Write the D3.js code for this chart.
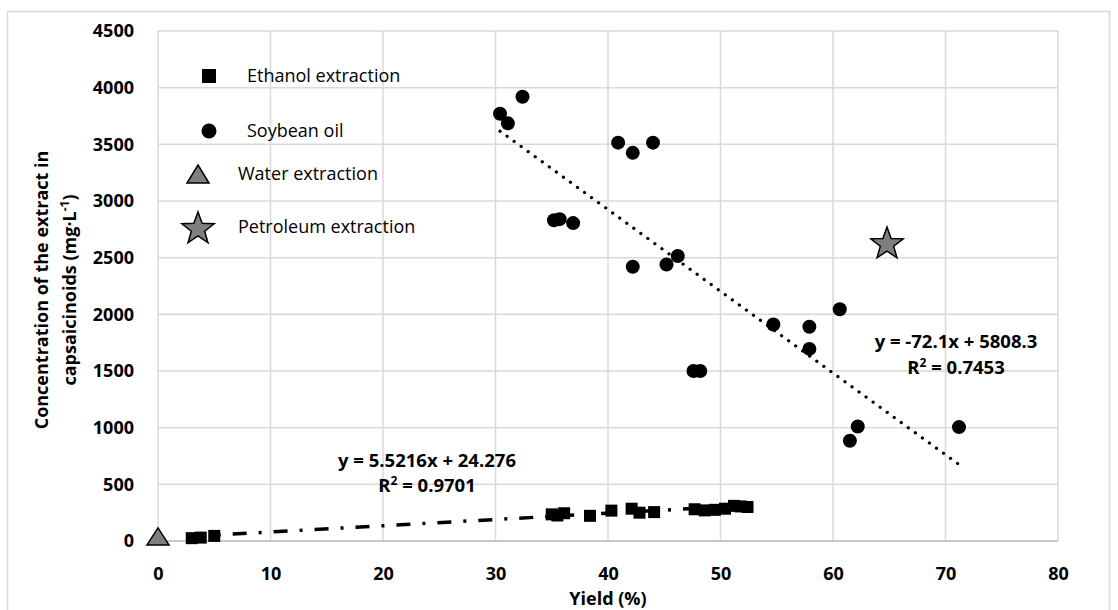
<!DOCTYPE html>
<html><head><meta charset="utf-8">
<script src="https://cdn.jsdelivr.net/npm/d3@7"></script>
<style>
body{margin:0;background:#fff;}
svg{display:block;font-family:"Open Sans",sans-serif;}
</style></head>
<body><svg id="chart" width="1118" height="610"></svg>
<script>
// ---- data ----
const ethanolYield = [3.0, 3.8, 5.0, 35.0, 35.5, 36.1, 38.4, 40.3, 42.1, 42.8, 44.1, 47.7, 48.6, 49.5, 50.4, 51.2, 51.8, 52.4];
const ethanolConc  = [25, 30, 45, 235, 225, 245, 222, 268, 285, 250, 255, 280, 270, 275, 285, 310, 305, 300];
const soyYield = [32.4, 30.4, 31.1, 40.9, 42.2, 44.0, 35.2, 35.7, 36.9, 42.2, 45.2, 46.2, 47.6, 48.2, 54.7, 57.9, 57.9, 60.6, 62.2, 61.5, 71.2];
const soyConc  = [3920, 3770, 3685, 3515, 3425, 3515, 2830, 2840, 2805, 2420, 2440, 2515, 1500, 1500, 1910, 1890, 1695, 2045, 1010, 885, 1005];
const waterYield = [0];
const waterConc = [40];
const petroleumYield = [64.8];
const petroleumConc = [2620];
const xTicks = [0, 10, 20, 30, 40, 50, 60, 70, 80];
const yTicks = [0, 500, 1000, 1500, 2000, 2500, 3000, 3500, 4000, 4500];
const ethanolFit = {slope: 5.5216, intercept: 24.276, r2: "0.9701", label: "y = 5.5216x + 24.276"};
const soyFit = {slope: -72.1, intercept: 5808.3, r2: "0.7453", label: "y = -72.1x + 5808.3"};
const legendNames = ["Ethanol extraction", "Soybean oil", "Water extraction", "Petroleum extraction"];

// ---- layout ----
const svg = d3.select("#chart");
const L = 158, R = 1058, T = 31, B = 541;
const x = d3.scaleLinear().domain([0, 80]).range([L, R]);
const y = d3.scaleLinear().domain([0, 4500]).range([B, T]);
const grid = "#d9d9d9";

// outer border
svg.append("rect").attr("x", 7.5).attr("y", 11.5).attr("width", 1102).attr("height", 640)
  .attr("fill", "none").attr("stroke", grid).attr("stroke-width", 1.5);

// gridlines
svg.append("g").selectAll("line").data(yTicks).join("line")
  .attr("x1", L).attr("x2", R).attr("y1", d => y(d)).attr("y2", d => y(d))
  .attr("stroke", grid).attr("stroke-width", 1.5);
svg.append("g").selectAll("line").data(xTicks).join("line")
  .attr("y1", T).attr("y2", B).attr("x1", d => x(d)).attr("x2", d => x(d))
  .attr("stroke", grid).attr("stroke-width", 1.5);
// x axis baseline
svg.append("line").attr("x1", L).attr("x2", R).attr("y1", B).attr("y2", B)
  .attr("stroke", "#bfbfbf").attr("stroke-width", 1.5);

// axes (labels only)
const xAxis = svg.append("g").attr("transform", `translate(0,${B})`)
  .call(d3.axisBottom(x).tickValues(xTicks).tickSize(0).tickPadding(26).tickFormat(d3.format("d")));
xAxis.select(".domain").remove();
xAxis.selectAll("text").attr("font-family", "Open Sans").attr("font-size", 18).attr("font-weight", "bold").attr("fill", "#000");
const yAxis = svg.append("g").attr("transform", `translate(${L},0)`)
  .call(d3.axisLeft(y).tickValues(yTicks).tickSize(0).tickPadding(24).tickFormat(d3.format("d")));
yAxis.select(".domain").remove();
yAxis.selectAll("text").attr("font-family", "Open Sans").attr("font-size", 18).attr("font-weight", "bold").attr("fill", "#000");

// axis titles
svg.append("text").attr("x", (L + R) / 2).attr("y", 605).attr("text-anchor", "middle")
  .attr("font-size", 18).attr("font-weight", "bold").text("Yield (%)");
const yt = svg.append("text").attr("transform", "translate(0,290) rotate(-90)")
  .attr("text-anchor", "middle").attr("font-size", 18).attr("font-weight", "bold");
yt.append("tspan").attr("x", 0).attr("y", 48).text("Concentration of the extract in");
yt.append("tspan").attr("x", 0).attr("y", 76).text("capsaicinoids (mg·L");
yt.append("tspan").attr("dy", -7).attr("font-size", 12).text("-1");
yt.append("tspan").attr("dy", 7).text(")");

// trendlines
function fitLine(fit, xs) {
  const x0 = d3.min(xs), x1 = d3.max(xs);
  return [[x0, fit.slope * x0 + fit.intercept], [x1, fit.slope * x1 + fit.intercept]];
}
const line = d3.line().x(d => x(d[0])).y(d => y(d[1]));
svg.append("path").attr("d", line(fitLine(ethanolFit, ethanolYield)))
  .attr("fill", "none").attr("stroke", "#000").attr("stroke-width", 3.5)
  .attr("stroke-dasharray", "14 12 3 12");
svg.append("path").attr("d", line(fitLine(soyFit, soyYield)))
  .attr("fill", "none").attr("stroke", "#000").attr("stroke-width", 3.2)
  .attr("stroke-linecap", "round").attr("stroke-dasharray", "0.1 8.6");

// marker shapes
function starPath(ro, ri) {
  const pts = [];
  for (let i = 0; i < 10; i++) {
    const r = i % 2 ? ri : ro, a = -Math.PI / 2 + i * Math.PI / 5;
    pts.push([r * Math.cos(a), r * Math.sin(a)]);
  }
  return "M" + pts.map(p => p.join(",")).join("L") + "Z";
}
function triPath(w, h) { return `M0,${-h/2}L${w/2},${h/2}L${-w/2},${h/2}Z`; }

const ethanol = ethanolYield.map((v, i) => [v, ethanolConc[i]]);
const soy = soyYield.map((v, i) => [v, soyConc[i]]);
const water = waterYield.map((v, i) => [v, waterConc[i]]);
const petro = petroleumYield.map((v, i) => [v, petroleumConc[i]]);

svg.append("g").selectAll("rect").data(ethanol).join("rect")
  .attr("x", d => x(d[0]) - 6).attr("y", d => y(d[1]) - 6).attr("width", 12).attr("height", 12).attr("fill", "#000");
svg.append("g").selectAll("circle").data(soy).join("circle")
  .attr("cx", d => x(d[0])).attr("cy", d => y(d[1])).attr("r", 7).attr("fill", "#000");
svg.append("g").selectAll("path").data(water).join("path")
  .attr("transform", d => `translate(${x(d[0])},${y(d[1])})`).attr("d", triPath(22, 17))
  .attr("fill", "#7f7f7f").attr("stroke", "#000").attr("stroke-width", 1.5);
svg.append("g").selectAll("path").data(petro).join("path")
  .attr("transform", d => `translate(${x(d[0])},${y(d[1])})`).attr("d", starPath(17, 7))
  .attr("fill", "#7f7f7f").attr("stroke", "#000").attr("stroke-width", 1.5);

// equations
const eqs = [
  {fit: ethanolFit, cx: 427, y1: 467, y2: 492},
  {fit: soyFit, cx: 956, y1: 348, y2: 374}
];
eqs.forEach(e => {
  svg.append("text").attr("x", e.cx).attr("y", e.y1).attr("text-anchor", "middle")
    .attr("font-size", 18.5).attr("font-weight", "bold").text(e.fit.label);
  const t = svg.append("text").attr("x", e.cx).attr("y", e.y2).attr("text-anchor", "middle")
    .attr("font-size", 18.5).attr("font-weight", "bold");
  t.append("tspan").text("R");
  t.append("tspan").attr("dy", -7).attr("font-size", 12).text("2");
  t.append("tspan").attr("dy", 7).text(" = " + e.fit.r2);
});

// legend
const leg = svg.append("g");
const legY = [76, 131, 174, 227];
leg.append("rect").attr("x", 209 - 7).attr("y", legY[0] - 7).attr("width", 14).attr("height", 14).attr("fill", "#000");
leg.append("circle").attr("cx", 209).attr("cy", legY[1]).attr("r", 7.5).attr("fill", "#000");
leg.append("path").attr("transform", `translate(198,${legY[2]})`).attr("d", triPath(22, 18))
  .attr("fill", "#7f7f7f").attr("stroke", "#000").attr("stroke-width", 1.5);
leg.append("path").attr("transform", `translate(198,${legY[3] + 2})`).attr("d", starPath(17, 7))
  .attr("fill", "#7f7f7f").attr("stroke", "#000").attr("stroke-width", 1.5);
const legX = [247, 247, 238, 238];
leg.selectAll("text").data(legendNames).join("text")
  .attr("x", (d, i) => legX[i]).attr("y", (d, i) => legY[i]).attr("dy", "0.35em")
  .attr("font-size", 18).text(d => d);
</script></body></html>
